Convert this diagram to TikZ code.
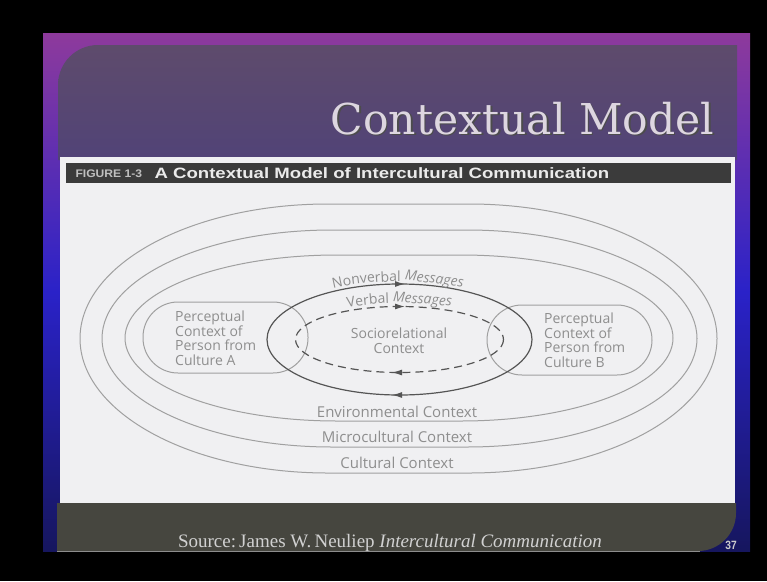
\documentclass[tikz,border=0pt]{standalone}
\usepackage{fontspec}
\usetikzlibrary{arrows.meta,decorations.text}
\newfontfamily\figfont{Open Sans}
\newfontfamily\barfont{Liberation Sans}
\newfontfamily\slidefont{DejaVu Serif}
\newfontfamily\notefont{Liberation Serif}
\definecolor{frameTop}{HTML}{8E3A9C}
\definecolor{frameMid}{HTML}{2A22C8}
\definecolor{frameBot}{HTML}{16165E}
\definecolor{panelTop}{HTML}{5E4B6C}
\definecolor{panelBot}{HTML}{514377}
\definecolor{paper}{HTML}{F0F0F2}
\definecolor{barGray}{HTML}{3B3B3B}
\definecolor{footGray}{HTML}{46463F}
\definecolor{ringGray}{HTML}{A0A0A0}
\definecolor{inkGray}{HTML}{8E8E8E}
\definecolor{msgGray}{HTML}{555555}
\definecolor{titleGray}{HTML}{DDD6E0}

\begin{document}
\begin{tikzpicture}[x=1pt, y=-1pt,
  ring/.style={draw=ringGray, line width=1pt},
  msgline/.style={draw=msgGray, line width=1.2pt},
  msgtip/.style={msgGray, line width=1.2pt, -{Latex[length=10pt, width=6pt]}},
  ctxlabel/.style={font=\figfont\fontsize{15}{17}\selectfont, text=inkGray, inner sep=0pt},
  perclabel/.style={font=\figfont\fontsize{14}{14.5}\selectfont, text=inkGray,
                    align=left, inner sep=0pt, anchor=west},
]

% slide background and frame
\fill[black] (0,0) rectangle (767,581);
\useasboundingbox (0,0) rectangle (767,581);
\shade[top color=frameTop, bottom color=frameBot, middle color=frameMid]
  (43,33) rectangle (750,551);

% title panel, rounded only at the top left
\shade[top color=panelTop, bottom color=panelBot]
  (58,160) -- (58,90) [rounded corners=40pt] -- (58,45) [sharp corners] -- (737,45)
  -- (737,160) -- cycle;
\node[anchor=base east, font=\slidefont\fontsize{42.5}{46}\selectfont, text=black!70]
  at (719.5,135.5) {Contextual Model};
\node[anchor=base east, font=\slidefont\fontsize{42.5}{46}\selectfont, text=titleGray]
  (title) at (718,134) {Contextual Model};

% figure sheet
\fill[paper] (60,157) rectangle (735,503);
\fill[barGray] (66,163) rectangle (731,183);
\node[anchor=base west, font=\barfont\bfseries\fontsize{11}{13}\selectfont, text=black!25]
  (fignum) at (72,177.5) {\scalebox{1.1}[1]{FIGURE 1-3}};
\node[anchor=base west, font=\barfont\bfseries\fontsize{15}{17}\selectfont, text=black!8]
  (figtitle) at (151,178) {\scalebox{1.24}[1]{A Contextual Model of Intercultural Communication}};

% nested contexts: flat tops with elliptic ends
\foreach \l/\r/\t/\b/\a in {80/717/204/473/248, 102/697/230/447/230, 125/673/255/421/212}{
  \draw[ring] ({\l+\a},\t) -- ({\r-\a},\t)
    .. controls ({\r-\a+0.5523*\a},\t) and (\r,{(\t+\b)/2-0.5523*(\b-\t)/2}) .. (\r,{(\t+\b)/2})
    .. controls (\r,{(\t+\b)/2+0.5523*(\b-\t)/2}) and ({\r-\a+0.5523*\a},\b) .. ({\r-\a},\b)
    -- ({\l+\a},\b)
    .. controls ({\l+\a-0.5523*\a},\b) and (\l,{(\t+\b)/2+0.5523*(\b-\t)/2}) .. (\l,{(\t+\b)/2})
    .. controls (\l,{(\t+\b)/2-0.5523*(\b-\t)/2}) and ({\l+\a-0.5523*\a},\t) .. ({\l+\a},\t);
}
\node[ctxlabel] (env) at (397,412) {Environmental Context};
\node[ctxlabel] (micro) at (397,437) {Microcultural Context};
\node[ctxlabel] (cult) at (397,463) {Cultural Context};

% perceptual contexts of both persons
\draw[ring, rounded corners=35pt] (143,302) rectangle (308,373);
\draw[ring, rounded corners=35pt] (487,305) rectangle (652,375);
\node[perclabel] (percA) at (175,338)
  {Perceptual\\Context of\\Person from\\Culture A};
\node[perclabel] (percB) at (544,340)
  {Perceptual\\Context of\\Person from\\Culture B};

% message loops
\draw[msgline] (399.5,339.5) ellipse[x radius=132.5, y radius=55.5];
\draw[msgline, dash pattern=on 8pt off 5pt] (399.5,339.5) ellipse[x radius=104, y radius=33];
\coordinate (nvTop) at (405,284);
\coordinate (nvBot) at (392,395);
\coordinate (vTop) at (405,306.5);
\coordinate (vBot) at (392,372.5);
\draw[msgtip] ([xshift=-10pt]nvTop) -- (nvTop);
\draw[msgtip] ([xshift=10pt]nvBot) -- (nvBot);
\draw[msgtip] ([xshift=-10pt]vTop) -- (vTop);
\draw[msgtip] ([xshift=10pt]vBot) -- (vBot);

\path[decorate, decoration={text along path, text align=center,
    text={|\figfont\fontsize{14}{15}\selectfont\color{inkGray}|Nonverbal {\itshape Messages}}}]
  plot[domain=155:25, samples=40] ({398+135*cos(\x)}, {339.5-58*sin(\x)});
\path[decorate, decoration={text along path, text align=center,
    text={|\figfont\fontsize{14}{15}\selectfont\color{inkGray}|Verbal {\itshape Messages}}}]
  plot[domain=150:30, samples=40] ({399.5+108*cos(\x)}, {339.5-36.5*sin(\x)});

\node[ctxlabel, font=\figfont\fontsize{14}{15}\selectfont, align=center] (socio)
  at (399,340.5) {Sociorelational\\Context};

% footer band with the source line
\fill[footGray] (57,503) -- (736,503) -- (736,513) [rounded corners=38pt] -- (736,551)
  [sharp corners] -- (57,551) -- cycle;
\draw[black!45, line width=0.8pt] (57,551) -- (700,551);
\node[anchor=base, font=\notefont\fontsize{19}{21}\selectfont, text=black!18] (source)
  at (390,547) {Source:\,James W.\,Neuliep {\itshape Intercultural Communication}};
\node[anchor=base, font=\barfont\bfseries\fontsize{12}{14}\selectfont, text=black!20] (page)
  at (731,549) {\scalebox{0.85}[1]{37}};

\end{tikzpicture}
\end{document}
